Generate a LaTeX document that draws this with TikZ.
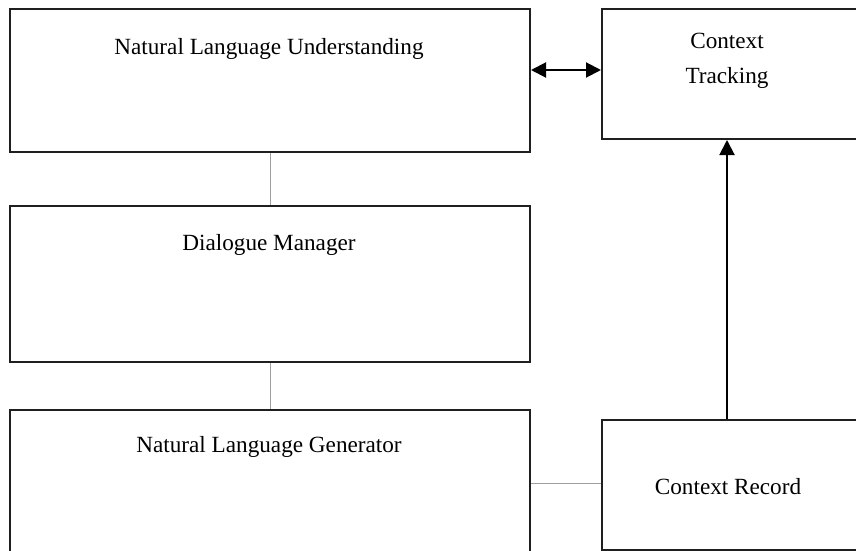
\documentclass[tikz,border=0pt]{standalone}
\usepackage{fontspec}
\setmainfont{Liberation Serif}
\usetikzlibrary{arrows.meta}
\begin{document}
\begin{tikzpicture}[x=1pt,y=-1pt,
  box/.style={draw=black!88,line width=2pt,inner sep=0pt,anchor=north west},
  lbl/.style={font=\fontsize{23.2}{35}\selectfont,inner sep=0pt,align=center},
  thin/.style={draw=black!38,line width=1pt},
  arr/.style={draw=black,line width=2pt},
  tip/.tip={Triangle[length=15pt,width=15pt]}]
\useasboundingbox (0,0) rectangle (856,551);
\begin{scope}
\clip (0,0) rectangle (856,551);
\node[box,minimum width=520pt,minimum height=143pt] (nlu) at (9,8) {};
\node[box,minimum width=270pt,minimum height=130pt] (ct) at (601,8) {};
\node[box,minimum width=520pt,minimum height=156pt] (dm) at (9,205) {};
\node[box,minimum width=520pt,minimum height=170pt] (nlg) at (9,409) {};
\node[box,minimum width=270pt,minimum height=130pt] (cr) at (601,419) {};
\end{scope}
\node[lbl] (tnlu) at (269,49) {Natural Language Understanding};
\node[lbl] (tct) at (727,61) {Context\\Tracking};
\node[lbl] (tdm) at (269,245) {Dialogue Manager};
\node[lbl] (tnlg) at (269,447) {Natural Language Generator};
\node[lbl] (tcr) at (728,487) {Context Record};
\draw[thin] (nlu.south) -- (dm.north);
\draw[thin] (dm.south) -- (nlg.north);
\draw[thin] (nlg.east |- 0,483) -- (cr.west |- 0,483);
\draw[arr,tip-tip] (nlu.east |- 0,70) -- (ct.west |- 0,70);
\draw[arr,-tip] (cr.north -| 727,0) -- (ct.south -| 727,0);
\end{tikzpicture}
\end{document}
